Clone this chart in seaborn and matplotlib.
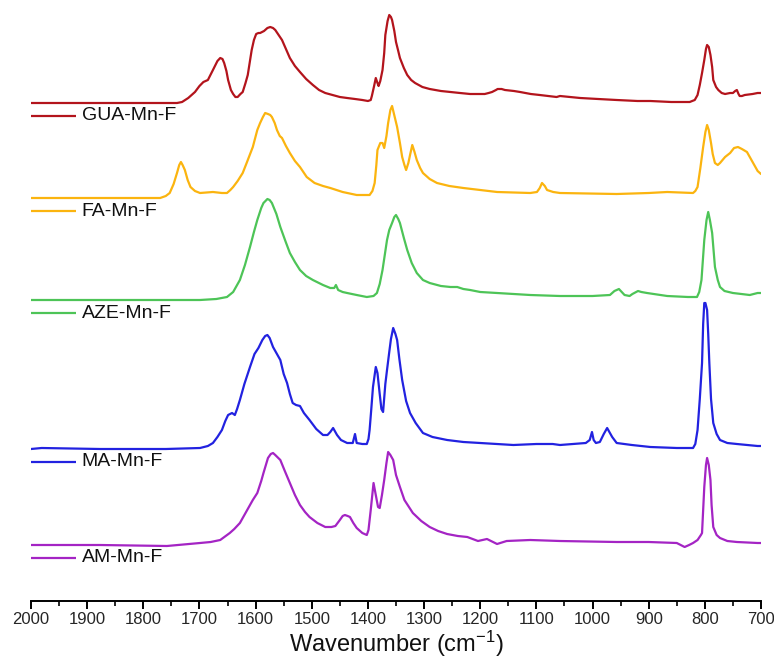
import matplotlib
matplotlib.use("Agg")
import matplotlib.pyplot as plt
import seaborn as sns
import pandas as pd
from matplotlib.ticker import MultipleLocator

# ---------------- data ----------------
samples = ["GUA-Mn-F", "FA-Mn-F", "AZE-Mn-F", "MA-Mn-F", "AM-Mn-F"]
colors = ["#B3141C", "#FBB40F", "#4DC457", "#2222E0", "#A424C4"]
offsets = [498, 403, 301, 152, 56]

gua_wn = [2000, 1877, 1753, 1740, 1731, 1720, 1708, 1700, 1693, 1685, 1676, 1668, 1663, 1659,
          1656, 1652, 1649, 1644, 1640, 1636, 1632, 1627, 1623, 1618, 1614, 1607, 1603, 1599,
          1595, 1592, 1585, 1579, 1574, 1569, 1565, 1559, 1553, 1546, 1539, 1530, 1521, 1510,
          1498, 1487, 1476, 1463, 1450, 1437, 1423, 1410, 1400, 1395, 1393, 1389, 1386, 1383,
          1381, 1378, 1374, 1371, 1369, 1365, 1362, 1359, 1357, 1353, 1350, 1346, 1343, 1336,
          1330, 1323, 1316, 1303, 1290, 1270, 1253, 1236, 1218, 1200, 1192, 1185, 1179, 1172,
          1169, 1162, 1156, 1140, 1129, 1110, 1094, 1064, 1058, 1022, 990, 957, 920, 897, 860,
          827, 818, 813, 809, 805, 801, 798, 796, 793, 790, 787, 785, 780, 776, 770, 764, 755,
          750, 746, 743, 740, 738, 734, 729, 715, 706, 700]
gua_y = [0, 0, 0, 0, 1, 5, 11, 17, 21, 23, 33, 42, 45, 44,
         40, 32, 23, 13, 9, 6, 6, 9, 11, 20, 28, 53, 63, 69,
         70, 70, 72, 75, 76, 75, 73, 68, 63, 54, 45, 37, 31, 24,
         18, 13, 10, 8, 6, 5, 4, 3, 2, 3, 7, 17, 25, 20,
         17, 22, 33, 50, 68, 82, 88, 86, 83, 72, 61, 52, 45, 35,
         28, 23, 20, 16, 14, 12, 11, 10, 9, 9, 9, 10, 11, 13,
         14, 14, 13, 12, 11, 9, 8, 6, 7, 5, 4, 3, 2, 2, 1,
         1, 3, 8, 18, 30, 43, 54, 58, 56, 48, 36, 23, 16, 13, 10, 9, 10,
         10, 12, 13, 9, 7, 7, 8, 9, 10, 10]

fa_wn = [2000, 1800, 1770, 1760, 1753, 1746, 1740, 1736, 1733, 1730, 1726, 1721, 1716, 1708,
         1699, 1676, 1660, 1651, 1645, 1640, 1632, 1623, 1616, 1605, 1597, 1592, 1587, 1583,
         1578, 1574, 1571, 1566, 1562, 1557, 1553, 1546, 1539, 1530, 1521, 1509, 1495, 1480,
         1467, 1445, 1420, 1405, 1397, 1392, 1388, 1385, 1383, 1378, 1374, 1371, 1367, 1364,
         1360, 1357, 1354, 1351, 1348, 1343, 1339, 1335, 1332, 1328, 1325, 1321, 1317, 1313,
         1307, 1302, 1290, 1277, 1255, 1230, 1200, 1170, 1111, 1099, 1094, 1090, 1085, 1081,
         1070, 1058, 957, 900, 867, 821, 817, 813, 808, 803, 799, 796, 793, 789, 786, 782,
         777, 773, 764, 755, 748, 741, 734, 725, 715, 706, 700]
fa_y = [0, 0, 0, 2, 5, 14, 25, 33, 36, 33, 28, 18, 11, 7,
        5, 6, 5, 5, 8, 11, 17, 25, 35, 51, 68, 75, 81, 85,
        84, 83, 81, 75, 68, 62, 60, 52, 45, 37, 31, 21, 15, 12,
        10, 6, 3, 3, 3, 7, 15, 33, 48, 55, 55, 50, 62, 75,
        88, 92, 85, 78, 71, 55, 41, 33, 28, 35, 43, 53, 46, 38,
        30, 25, 19, 15, 12, 10, 8, 6, 5, 6, 10, 15, 12, 8,
        6, 5, 4, 5, 6, 5, 7, 11, 30, 51, 66, 73, 68, 55, 44, 35,
        33, 35, 41, 45, 50, 51, 49, 46, 36, 27, 24]

aze_wn = [2000, 1800, 1699, 1670, 1651, 1640, 1628, 1619, 1610, 1603, 1597, 1590, 1586, 1579,
          1575, 1571, 1563, 1556, 1547, 1539, 1530, 1521, 1510, 1498, 1480, 1467, 1460, 1457,
          1453, 1445, 1437, 1420, 1402, 1390, 1384, 1379, 1374, 1370, 1366, 1362, 1357, 1353,
          1350, 1346, 1343, 1336, 1330, 1322, 1313, 1302, 1290, 1270, 1253, 1241, 1230, 1218,
          1200, 1170, 1111, 1058, 1000, 969, 961, 953, 948, 943, 934, 929, 919, 913, 903, 867,
          830, 814, 810, 806, 801, 797, 794, 791, 787, 782, 777, 773, 765, 750, 720, 706, 700]
aze_y = [0, 0, 0, 1, 3, 8, 20, 35, 53, 68, 80, 92, 97, 101,
         100, 97, 86, 73, 59, 47, 38, 30, 24, 20, 15, 12, 12, 15,
         10, 8, 7, 5, 3, 4, 7, 16, 30, 45, 60, 70, 77, 83,
         85, 81, 77, 62, 50, 37, 27, 20, 17, 14, 13, 13, 11, 10,
         8, 7, 5, 4, 4, 5, 9, 11, 8, 5, 4, 6, 9, 8, 7, 4,
         3, 3, 8, 20, 60, 80, 88, 80, 67, 33, 20, 13, 9, 7, 5, 7, 7]

ma_wn = [2000, 1981, 1877, 1760, 1699, 1685, 1676, 1668, 1660, 1654, 1649, 1642, 1637, 1633,
         1628, 1620, 1610, 1602, 1595, 1588, 1583, 1579, 1575, 1569, 1563, 1556, 1550, 1544,
         1539, 1534, 1528, 1521, 1514, 1504, 1492, 1480, 1472, 1467, 1462, 1458, 1455, 1448,
         1437, 1427, 1423, 1420, 1410, 1402, 1399, 1397, 1394, 1391, 1386, 1383, 1379, 1376,
         1373, 1369, 1366, 1362, 1359, 1355, 1351, 1348, 1344, 1339, 1332, 1325, 1315, 1302,
         1285, 1259, 1230, 1200, 1141, 1100, 1071, 1058, 1012, 1005, 1001, 998, 994, 987, 980,
         974, 970, 965, 957, 930, 897, 850, 821, 817, 813, 809, 805, 803, 801, 799, 796, 794,
         792, 789, 785, 779, 773, 760, 743, 706, 700]
ma_y = [0, 1, 0, 0, 1, 3, 6, 12, 19, 28, 34, 36, 34, 40,
        49, 65, 82, 95, 101, 109, 113, 114, 111, 102, 96, 89, 75, 66,
        55, 46, 44, 43, 36, 29, 20, 14, 14, 17, 21, 17, 14, 9,
        6, 6, 15, 6, 5, 5, 10, 19, 40, 62, 82, 76, 55, 40,
        37, 65, 79, 97, 110, 121, 115, 109, 90, 69, 48, 36, 26, 16,
        12, 9, 7, 6, 4, 5, 5, 4, 6, 9, 17, 9, 6, 7, 15,
        21, 17, 12, 6, 4, 2, 1, 1, 5, 19, 50, 86, 125, 146, 146, 139, 115,
        86, 50, 26, 15, 9, 6, 5, 3, 3]

am_wn = [2000, 1877, 1758, 1699, 1680, 1663, 1646, 1638, 1628, 1618, 1605, 1597, 1590, 1586,
         1578, 1573, 1569, 1565, 1556, 1548, 1539, 1530, 1521, 1512, 1504, 1490, 1476, 1465,
         1458, 1450, 1445, 1441, 1436, 1432, 1426, 1420, 1410, 1402, 1399, 1395, 1390, 1386,
         1382, 1379, 1375, 1371, 1367, 1364, 1360, 1355, 1350, 1343, 1335, 1320, 1305, 1290,
         1275, 1259, 1240, 1223, 1204, 1188, 1170, 1153, 1111, 1058, 957, 900, 850, 836, 828,
         821, 813, 807, 805, 803, 801, 798, 796, 793, 790, 788, 785, 779, 773, 760, 743, 706, 700]
am_y = [0, 0, -1, 2, 3, 5, 12, 16, 22, 32, 45, 52, 64, 72,
        87, 91, 92, 90, 85, 74, 62, 50, 40, 33, 28, 22, 18, 18,
        19, 25, 29, 30, 29, 28, 22, 17, 12, 10, 15, 35, 62, 50,
        38, 37, 50, 65, 82, 93, 90, 85, 70, 58, 45, 32, 24, 18,
        14, 11, 9, 8, 4, 6, 1, 4, 5, 4, 3, 3, 2, -2, 0,
        2, 5, 10, 12, 35, 58, 80, 87, 80, 65, 40, 18, 10, 7, 4, 3, 2, 2]

wn_series = [gua_wn, fa_wn, aze_wn, ma_wn, am_wn]
y_series = [gua_y, fa_y, aze_y, ma_y, am_y]

xticks = list(range(2000, 699, -100))

# ---------------- figure ----------------
sns.set_theme(style="white")
plt.rcParams["font.family"] = ["Liberation Sans", "DejaVu Sans"]
plt.rcParams["mathtext.fontset"] = "custom"
plt.rcParams["mathtext.rm"] = "Liberation Sans"
plt.rcParams["mathtext.it"] = "Liberation Sans:italic"

fig = plt.figure(figsize=(7.74, 6.61), dpi=100)
ax = fig.add_axes([31 / 774, 60 / 661, 730 / 774, 601 / 661])

frames = []
for name, wn, yv, off in zip(samples, wn_series, y_series, offsets):
    frames.append(pd.DataFrame({"wn": wn, "y": [v + off for v in yv], "sample": name}))
df = pd.concat(frames, ignore_index=True)

sns.lineplot(data=df, x="wn", y="y", hue="sample", hue_order=samples,
             palette=colors, estimator=None, sort=True, linewidth=1.6,
             legend=False, ax=ax)

# labels under each trace
for name, col, off in zip(samples, colors, offsets):
    ax.plot([2000, 1919], [off - 13, off - 13], color=col, lw=1.6, solid_capstyle="butt")
    ax.text(1910, off - 13, name, color="#111111", fontsize=14, va="center", ha="left")

ax.set_xlim(2000, 700)
ax.set_ylim(0, 601)
ax.set_xticks(xticks)
ax.xaxis.set_minor_locator(MultipleLocator(50))
ax.set_yticks([])
for s in ["left", "top", "right"]:
    ax.spines[s].set_visible(False)
ax.spines["bottom"].set_color("black")
ax.spines["bottom"].set_linewidth(1.4)
ax.tick_params(axis="x", which="major", direction="out", length=6, width=1.4,
               color="black", labelsize=12, pad=2, bottom=True)
ax.tick_params(axis="x", which="minor", direction="out", length=3.5, width=1.2,
               color="black", bottom=True)
ax.set_xlabel("Wavenumber (cm$^{-1}$)", fontsize=17, labelpad=1, color="#111111")
ax.set_ylabel("")
ax.set_facecolor("white")
ax.patch.set_alpha(0)

fig.savefig("out.png", dpi=100, facecolor="white")
